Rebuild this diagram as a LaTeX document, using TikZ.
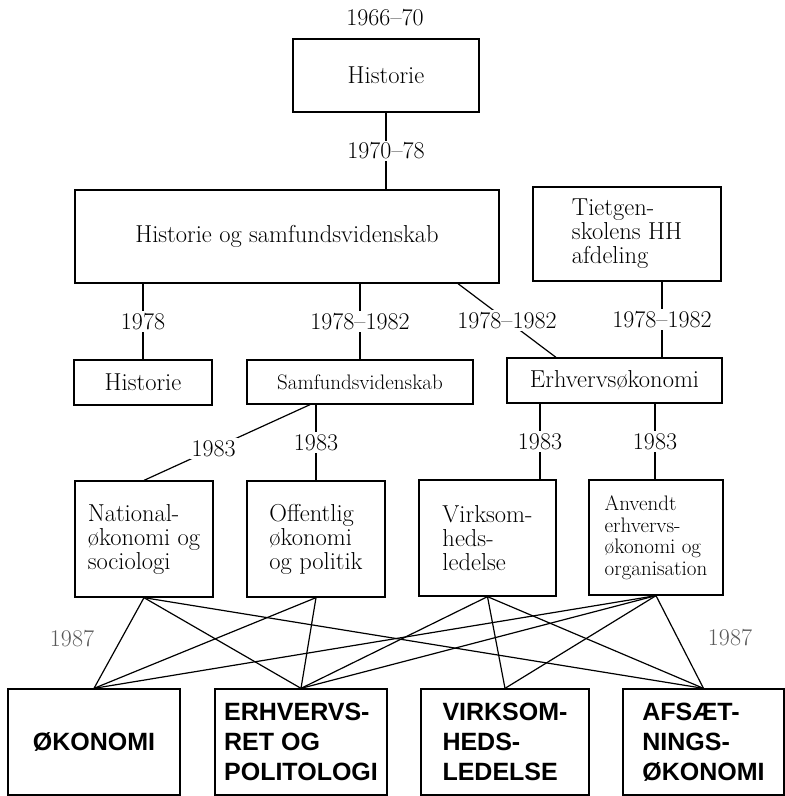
\documentclass[tikz,border=0pt]{standalone}
\usepackage{fontspec}
\usepackage{tikz}
\newfontfamily\blockfont{Liberation Sans}
\newcommand{\yearlink}[4][midway]{
    \draw (#2) -- node[year, #1] {#4} (#3);
}
\tikzset{
    unit/.style={draw, line width=1.3pt, inner sep=0pt, align=left,
        font=\fontsize{24.5}{24}\selectfont},
    study/.style={draw, line width=1.3pt, inner sep=0pt, align=left,
        font=\blockfont\bfseries\fontsize{25}{30}\selectfont},
    year/.style={fill=white, inner sep=2pt, font=\fontsize{24}{24}\selectfont},
}

\begin{document}
\begin{tikzpicture}[x=1pt, y=-1pt, line width=1.2pt]
        \useasboundingbox (0,0) rectangle (785,796);
        \node[year] (start) at (385,18) {1966--70};
        \node[unit, minimum width=186pt, minimum height=73pt] (hist) at (386,75.5) {Historie};
        \node[unit, minimum width=424pt, minimum height=93pt] (histsam) at (287,236.5) {Historie og samfundsvidenskab};
        \node[unit, minimum width=188pt, minimum height=94pt] (tietgen) at (627,234) {Tietgen-\\skolens HH\\afdeling};
        \node[unit, minimum width=138pt, minimum height=45pt] (histold) at (143,382.5) {Historie};
        \node[unit, minimum width=226pt, minimum height=44pt, font=\fontsize{21}{22}\selectfont] (samf) at (360,382) {Samfundsvidenskab};
        \node[unit, minimum width=215pt, minimum height=45pt] (erhv) at (614.5,380.5) {Erhvervsøkonomi};
        \node[unit, minimum width=138pt, minimum height=116pt] (nat) at (144,539) {National-\\økonomi og\\sociologi};
        \node[unit, minimum width=138pt, minimum height=116pt] (off) at (316,539) {Offentlig\\økonomi\\og politik};
        \node[unit, minimum width=137pt, minimum height=116pt] (virk) at (487.5,538) {Virksom-\\heds-\\ledelse};
        \node[unit, minimum width=134pt, minimum height=115pt, font=\fontsize{21}{21.5}\selectfont] (anv) at (656,537.5) {Anvendt\\erhvervs-\\økonomi og\\organisation};
        \node[study, minimum width=172pt, minimum height=106pt] (oko) at (94,742) {ØKONOMI};
        \node[study, minimum width=172pt, minimum height=106pt] (ret) at (301,742) {ERHVERVS-\\RET OG\\POLITOLOGI};
        \node[study, minimum width=168pt, minimum height=106pt] (led) at (505,742) {VIRKSOM-\\HEDS-\\LEDELSE};
        \node[study, minimum width=161pt, minimum height=106pt] (afs) at (703.5,742) {AFSÆT-\\NINGS-\\ØKONOMI};
        \coordinate (hs-a) at ([xshift=171pt]histsam.south);
        \coordinate (erhv-in) at ([xshift=-58.5pt]erhv.north);
        \coordinate (tg-out) at ([xshift=35pt]tietgen.south);
        \coordinate (samf-a) at ([xshift=-50pt]samf.south);
        \coordinate (samf-b) at ([xshift=-44pt]samf.south);
        \coordinate (erhv-a) at ([xshift=-74.5pt]erhv.south);
        \coordinate (erhv-b) at ([xshift=40.5pt]erhv.south);
        \yearlink{hist.south}{hist.south |- histsam.north}{1970--78}
        \yearlink{histold.north |- histsam.south}{histold.north}{1978}
        \yearlink{samf.north |- histsam.south}{samf.north}{1978--1982}
        \yearlink{hs-a}{erhv-in}{1978--1982}
        \yearlink{tg-out}{tg-out |- erhv.north}{1978--1982}
        \yearlink[pos=0.58]{samf-a}{nat.north}{1983}
        \yearlink{samf-b}{samf-b |- off.north}{1983}
        \yearlink{erhv-a}{erhv-a |- virk.north}{1983}
        \yearlink{erhv-b}{erhv-b |- anv.north}{1983}
        \foreach \a/\b in {nat/oko, nat/ret, nat/afs, off/oko, off/ret, virk/ret,
            virk/led, virk/afs, anv/oko, anv/ret, anv/led, anv/afs}
            \draw (\a.south) -- (\b.north);
        \node[year, fill=none, text=black!65] (y-left) at (72,639) {1987};
        \node[year, fill=none, text=black!65] (y-right) at (730,638) {1987};
    \end{tikzpicture}
\end{document}
